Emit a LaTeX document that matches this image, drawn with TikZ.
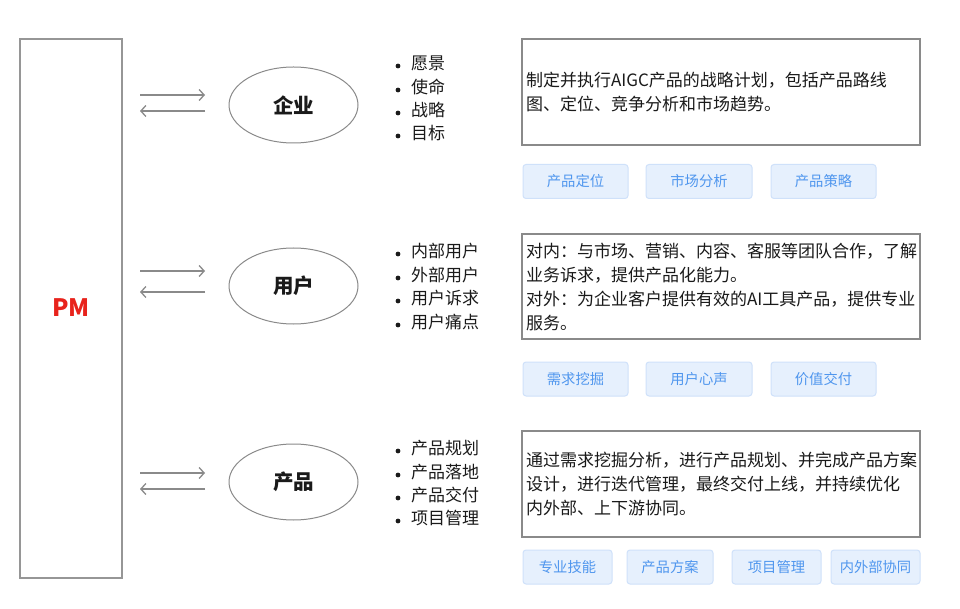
\documentclass[tikz,border=0pt]{standalone}
\usepackage{fontspec}
\setmainfont{Noto Sans CJK SC}
\usetikzlibrary{shapes.geometric,arrows.meta}
\definecolor{boxgray}{HTML}{8A8A8A}
\definecolor{pmred}{HTML}{E8231C}
\definecolor{tagfill}{HTML}{E6F0FD}
\definecolor{tagline}{HTML}{CFE1FA}
\definecolor{tagtext}{HTML}{4F96EE}
\definecolor{txt}{HTML}{1A1A1A}
\tikzset{
  pmbox/.style={draw=boxgray!90, line width=1.3pt, minimum width=102pt, minimum height=539pt, inner sep=0pt},
  oval/.style={ellipse, draw=boxgray, line width=1pt, minimum width=129pt, minimum height=76pt, inner sep=0pt, font=\fontsize{20.5}{22}\selectfont\bfseries, text=txt},
  desc/.style={draw=boxgray, line width=1.5pt, minimum width=398pt, text width=390pt, inner xsep=4pt, inner ysep=0pt, align=left, font=\fontsize{17}{24}\selectfont, text=txt},
  tag/.style={draw=tagline, fill=tagfill, rounded corners=3pt, line width=1pt, inner sep=0pt, minimum height=34pt, font=\fontsize{14.3}{16}\selectfont, text=tagtext},
  item/.style={anchor=west, inner sep=0pt, font=\fontsize{17}{18}\selectfont, text=txt},
  dot/.style={circle, fill=txt, inner sep=0pt, minimum size=4.8pt},
  arr/.style={draw=boxgray, line width=1.3pt, -{Straight Barb[length=5pt,width=11pt]}}
}
\begin{document}
\begin{tikzpicture}[x=1pt,y=-1pt]
\useasboundingbox[fill=white] (0,0) rectangle (960,609);
% PM
\node[pmbox] (pm) at (71,308.5) {};
\node[font=\fontsize{24}{26}\selectfont\bfseries, text=pmred] (pmt) at (71,308) {PM};
% ellipses
\node[oval] (o1) at (293.5,105) {企业};
\node[oval] (o2) at (293.5,286) {用户};
\node[oval] (o3) at (293.5,482) {产品};
% arrows
\coordinate (r1a) at (140,95);  \coordinate (r1b) at (205,95);
\coordinate (l1a) at (205,111); \coordinate (l1b) at (140,111);
\coordinate (r2a) at (140,271); \coordinate (r2b) at (205,271);
\coordinate (l2a) at (205,292); \coordinate (l2b) at (140,292);
\coordinate (r3a) at (140,473); \coordinate (r3b) at (205,473);
\coordinate (l3a) at (205,489); \coordinate (l3b) at (140,489);
\draw[arr] (r1a) -- (r1b); \draw[arr] (l1a) -- (l1b);
\draw[arr] (r2a) -- (r2b); \draw[arr] (l2a) -- (l2b);
\draw[arr] (r3a) -- (r3b); \draw[arr] (l3a) -- (l3b);
% lists
\foreach \t/\y [count=\i] in {愿景/63,使命/87,战略/110,目标/133}{
  \node[item] (ea\i) at (411,\y) {\t};
  \node[dot] (eb\i) at (398,\y+3) {};
}
\foreach \t/\y [count=\i] in {内部用户/251,外部用户/275,用户诉求/298,用户痛点/322}{
  \node[item] (ua\i) at (411,\y) {\t};
  \node[dot] (ub\i) at (398,\y+3) {};
}
\foreach \t/\y [count=\i] in {产品规划/448,产品落地/472,产品交付/495,项目管理/518}{
  \node[item] (pa\i) at (411,\y) {\t};
  \node[dot] (pb\i) at (398,\y+3) {};
}
% description boxes
\node[desc, minimum height=106pt] (d1) at (721,92) {制定并执行AIGC产品的战略计划，包括产品路线\\图、定位、竞争分析和市场趋势。};
\node[desc, minimum height=105pt] (d2) at (721,286.5) {对内：与市场、营销、内容、客服等团队合作，了解\\业务诉求，提供产品化能力。\\对外：为企业客户提供有效的AI工具产品，提供专业\\服务。};
\node[desc, minimum height=106pt] (d3) at (721,484) {通过需求挖掘分析，进行产品规划、并完成产品方案\\设计，进行迭代管理，最终交付上线，并持续优化\\内外部、上下游协同。};
% tags
\node[tag, minimum width=105pt] (t11) at (575.5,181.5) {产品定位};
\node[tag, minimum width=106pt] (t12) at (699,181.5) {市场分析};
\node[tag, minimum width=105pt] (t13) at (823.5,181.5) {产品策略};
\node[tag, minimum width=105pt] (t21) at (575.5,379) {需求挖掘};
\node[tag, minimum width=106pt] (t22) at (699,379) {用户心声};
\node[tag, minimum width=105pt] (t23) at (823.5,379) {价值交付};
\node[tag, minimum width=89pt] (t31) at (567.5,567) {专业技能};
\node[tag, minimum width=86pt] (t32) at (670,567) {产品方案};
\node[tag, minimum width=89pt] (t33) at (776.5,567) {项目管理};
\node[tag, minimum width=89pt] (t34) at (875.5,567) {内外部协同};
\end{tikzpicture}
\end{document}
